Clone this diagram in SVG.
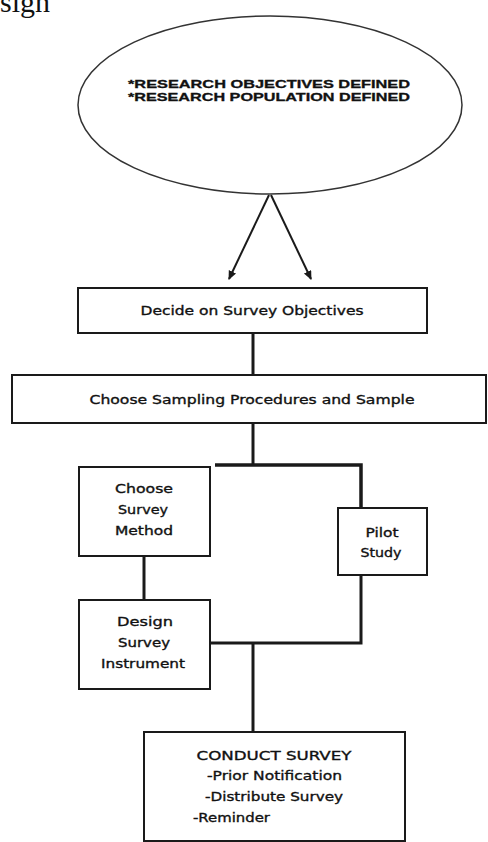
<svg xmlns="http://www.w3.org/2000/svg" width="488" height="842" viewBox="0 0 488 842">
<style>
  .box{fill:#fff;stroke:#1a1a1a;stroke-width:2}
  .t{font-family:"DejaVu Sans","Liberation Sans",sans-serif;font-size:12.5px;fill:#111;stroke:#111;stroke-width:0.35;text-anchor:middle}
  .tl{text-anchor:start}
  .hd{font-family:"Liberation Sans","DejaVu Sans",sans-serif;font-weight:bold;font-size:11px;fill:#111;stroke:#111;stroke-width:0.3}
  .c{fill:none;stroke:#1a1a1a;stroke-width:3}
  .a{fill:none;stroke:#1a1a1a;stroke-width:2}
</style>
<defs>
  <marker id="ah" markerWidth="10" markerHeight="10" refX="8" refY="4" orient="auto" markerUnits="userSpaceOnUse">
    <path d="M0,0 L9,4 L0,8 Z" fill="#1a1a1a"/>
  </marker>
</defs>
<rect width="488" height="842" fill="#fff"/>
<text x="0" y="12" font-family="Liberation Serif, serif" font-size="30" fill="#111">sign</text>

<g id="connectors">
  <line class="a" x1="269" y1="195" x2="229" y2="279" marker-end="url(#ah)"/>
  <line class="a" x1="271" y1="195" x2="311" y2="279" marker-end="url(#ah)"/>
  <line class="c" x1="253" y1="333" x2="253" y2="375"/>
  <line class="c" x1="253" y1="423" x2="253" y2="465"/>
  <polyline class="c" points="215,465 361,465 361,508" style="stroke-width:3.5"/>
  <line class="c" x1="144" y1="556" x2="144" y2="600"/>
  <polyline class="c" points="361,575 361,643 210,643"/>
  <line class="c" x1="253" y1="643" x2="253" y2="732"/>
</g>

<g id="research">
  <ellipse cx="270" cy="105" rx="192" ry="89" fill="#fff" stroke="#333" stroke-width="1.5"/>
  <text class="hd" x="128" y="88" textLength="282" lengthAdjust="spacingAndGlyphs">*RESEARCH OBJECTIVES DEFINED</text>
  <text class="hd" x="128" y="101" textLength="282" lengthAdjust="spacingAndGlyphs">*RESEARCH POPULATION DEFINED</text>
</g>

<g id="objectives">
  <rect class="box" x="78" y="288" width="349" height="45"/>
  <text class="t" x="252" y="315" textLength="223" lengthAdjust="spacingAndGlyphs">Decide on Survey Objectives</text>
</g>

<g id="sampling">
  <rect class="box" x="12" y="375" width="474" height="48"/>
  <text class="t" x="252" y="404" textLength="325" lengthAdjust="spacingAndGlyphs">Choose Sampling Procedures and Sample</text>
</g>

<g id="method">
  <rect class="box" x="79" y="467" width="131" height="89"/>
  <text class="t" x="144" y="493" textLength="58" lengthAdjust="spacingAndGlyphs">Choose</text>
  <text class="t" x="143" y="514" textLength="50" lengthAdjust="spacingAndGlyphs">Survey</text>
  <text class="t" x="144" y="535" textLength="58" lengthAdjust="spacingAndGlyphs">Method</text>
</g>

<g id="pilot">
  <rect class="box" x="338" y="508" width="89" height="67"/>
  <text class="t" x="382" y="537" textLength="33" lengthAdjust="spacingAndGlyphs">Pilot</text>
  <text class="t" x="381" y="557" textLength="41" lengthAdjust="spacingAndGlyphs">Study</text>
</g>

<g id="design">
  <rect class="box" x="79" y="600" width="131" height="89"/>
  <text class="t" x="145" y="626" textLength="56" lengthAdjust="spacingAndGlyphs">Design</text>
  <text class="t" x="144" y="647" textLength="52" lengthAdjust="spacingAndGlyphs">Survey</text>
  <text class="t" x="143" y="668" textLength="84" lengthAdjust="spacingAndGlyphs">Instrument</text>
</g>

<g id="conduct">
  <rect class="box" x="144" y="732" width="261" height="109"/>
  <text class="t" x="274" y="760" textLength="155" lengthAdjust="spacingAndGlyphs">CONDUCT SURVEY</text>
  <text class="t tl" x="207" y="780" textLength="135" lengthAdjust="spacingAndGlyphs">-Prior Notification</text>
  <text class="t tl" x="205" y="801" textLength="138" lengthAdjust="spacingAndGlyphs">-Distribute Survey</text>
  <text class="t tl" x="193" y="822" textLength="77" lengthAdjust="spacingAndGlyphs">-Reminder</text>
</g>
</svg>
